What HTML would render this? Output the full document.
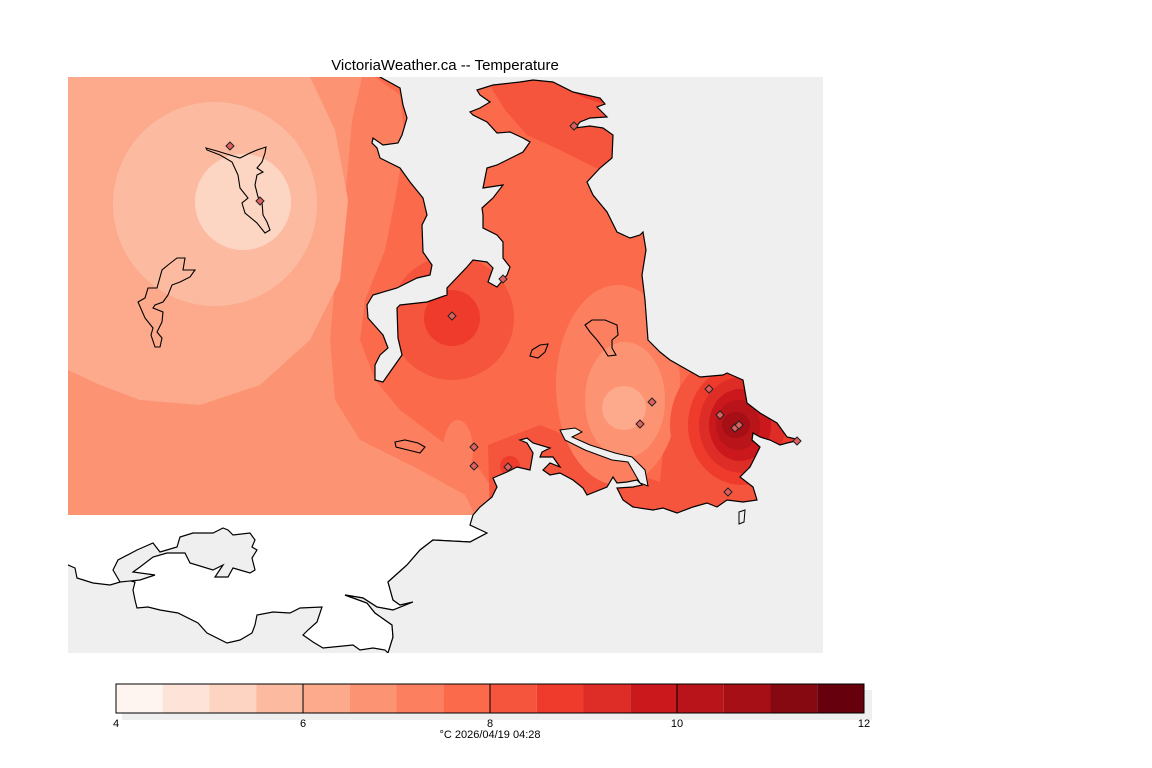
<!DOCTYPE html>
<html><head><meta charset="utf-8"><style>
html,body{margin:0;padding:0;background:#fff;}
svg{display:block;}
text{font-family:"Liberation Sans","DejaVu Sans",sans-serif;}
</style></head><body>
<svg width="1152" height="768" viewBox="0 0 1152 768" xmlns="http://www.w3.org/2000/svg">
<defs>
<clipPath id="map"><rect x="68" y="77" width="755" height="576"/></clipPath>
<clipPath id="field"><rect x="68" y="77" width="755" height="438"/></clipPath>
</defs>
<rect width="1152" height="768" fill="#fff"/>
<text x="445" y="70" font-size="15" text-anchor="middle" fill="#000">VictoriaWeather.ca -- Temperature</text>
<g clip-path="url(#map)">
<rect x="68" y="77" width="755" height="576" fill="#efefef"/>
<!-- white land south-west -->
<path d="M55,495 L482,495 L487,533 L470,542 L433,540 L420,550 L407,565 L388,582 L393,600 L400,605 L413,602 L393,610 L377,607 L363,598 L345,595 L367,603 L375,613 L392,625 L393,637 L388,653 L385,650 L373,648 L360,650 L353,645 L333,647 L323,648 L313,642 L303,635 L308,630 L317,622 L322,607 L300,608 L290,613 L273,612 L257,615 L255,625 L252,633 L240,640 L227,643 L207,633 L198,623 L178,613 L160,610 L148,607 L137,608 L135,600 L133,590 L135,582 L127,580 L110,585 L93,583 L77,578 L75,568 L68,565 L55,565 Z" fill="#fff" stroke="#000" stroke-width="1.2"/>
<path d="M113,570 L118,560 L137,550 L153,543 L160,552 L177,547 L180,537 L193,533 L213,533 L223,528 L228,530 L233,535 L250,533 L255,540 L252,547 L257,550 L252,558 L255,570 L250,573 L233,568 L228,577 L215,577 L223,565 L213,570 L190,563 L185,553 L167,553 L153,557 L140,567 L133,572 L155,575 L140,580 L120,582 Z" fill="#efefef" stroke="#000" stroke-width="1.2"/>
<!-- temperature field -->
<g clip-path="url(#field)">
<rect x="68" y="77" width="755" height="438" fill="#fb6a4a"/>
<path d="M68,77 L375,77 L400,95 L405,140 L395,200 L385,250 L365,300 L360,340 L375,380 L400,410 L440,440 L480,470 L500,500 L480,515 L68,515 Z" fill="#fc8060"/>
<path d="M68,77 L362,77 L352,120 L345,200 L335,280 L330,340 L335,400 L360,440 L420,470 L465,495 L475,515 L68,515 Z" fill="#fc9474"/>
<path d="M68,77 L310,77 L335,130 L348,200 L340,280 L310,340 L260,385 L200,405 L140,400 L100,385 L68,370 Z" fill="#fca98c"/>
<circle cx="215" cy="204" r="102" fill="#fcbba1"/>
<circle cx="243" cy="202" r="48" fill="#fdd5c3"/>
<ellipse cx="458" cy="450" rx="15" ry="30" fill="#fc8060"/>
<path d="M490,520 L488,445 L540,425 L590,445 L625,470 L660,482 L668,400 L700,378 L823,378 L823,520 Z" fill="#f5553c"/>
<ellipse cx="618" cy="385" rx="62" ry="100" fill="#fc8060"/>
<ellipse cx="625" cy="400" rx="40" ry="58" fill="#fc9474"/>
<circle cx="624" cy="408" r="22" fill="#fca98c"/>
<ellipse cx="742" cy="425" rx="72" ry="75" fill="#f5553c"/>
<ellipse cx="742" cy="425" rx="54" ry="60" fill="#ef3b2c"/>
<ellipse cx="742" cy="425" rx="43" ry="48" fill="#de2d26"/>
<ellipse cx="740" cy="425" rx="31" ry="36" fill="#cb181d"/>
<ellipse cx="738" cy="425" rx="22" ry="25" fill="#b81419"/>
<ellipse cx="736" cy="425" rx="14" ry="13" fill="#a50f15"/>
<circle cx="452" cy="318" r="62" fill="#f5553c"/>
<circle cx="452" cy="318" r="28" fill="#ef3b2c"/>
<circle cx="510" cy="466" r="10" fill="#ef3b2c"/>
<path d="M488,77 L630,77 L630,178 L600,170 L560,150 L527,135 L505,110 L490,85 Z" fill="#f5553c"/>
<path d="M550,77 L610,77 L605,104 L585,98 L560,86 Z" fill="#ef3b2c"/>
</g>
<!-- sea -->
<path d="M378,60 L380,77 L400,88 L403,105 L407,118 L402,135 L398,143 L383,145 L373,138 L372,143 L377,148 L380,158 L400,168 L410,182 L423,198 L427,215 L422,225 L423,252 L432,265 L430,275 L417,278 L397,288 L373,295 L367,305 L368,318 L383,335 L388,348 L380,355 L375,365 L375,380 L383,382 L390,372 L402,355 L398,338 L397,308 L400,305 L427,302 L447,295 L447,288 L467,267 L473,260 L487,262 L493,268 L488,282 L497,287 L507,275 L510,267 L503,258 L503,242 L497,235 L483,228 L483,215 L482,208 L493,198 L503,185 L483,188 L487,168 L497,165 L523,152 L530,142 L523,138 L510,132 L497,133 L487,122 L473,115 L470,112 L480,108 L490,102 L480,95 L477,90 L493,85 L520,82 L533,80 L553,82 L573,92 L600,98 L605,104 L597,107 L607,117 L590,118 L580,122 L575,128 L590,126 L603,128 L613,135 L612,158 L600,168 L587,182 L593,195 L607,212 L617,232 L630,238 L640,235 L643,232 L646,250 L642,275 L645,300 L648,340 L660,352 L670,360 L700,377 L723,375 L727,373 L743,380 L747,403 L760,413 L777,423 L787,437 L800,440 L787,443 L780,445 L770,440 L760,437 L753,433 L752,440 L760,447 L750,467 L740,477 L753,487 L757,500 L743,502 L727,500 L717,507 L707,503 L693,507 L677,513 L663,508 L653,510 L633,507 L623,500 L617,488 L633,487 L642,485 L637,480 L627,482 L617,483 L613,477 L607,487 L587,495 L583,488 L573,480 L560,473 L550,475 L543,470 L550,463 L560,467 L553,457 L540,457 L542,452 L550,448 L533,443 L527,438 L520,440 L527,443 L533,453 L530,470 L517,467 L507,472 L493,478 L497,487 L492,497 L480,507 L473,515 L470,525 L487,533 L470,542 L433,540 L420,550 L407,565 L388,582 L393,600 L400,605 L413,602 L393,610 L377,607 L363,598 L345,595 L367,603 L375,613 L392,625 L393,637 L388,653 L385,670 L900,670 L900,60 Z" fill="#efefef" stroke="#000" stroke-width="1.2"/>
<!-- gorge inlet -->
<path d="M560,430 L575,428 L582,432 L572,437 L590,445 L615,453 L632,457 L645,470 L648,486 L640,483 L628,462 L612,460 L585,450 L565,440 Z" fill="#efefef" stroke="#000" stroke-width="1"/>
<path d="M739,512 L745,510 L744,522 L739,524 Z" fill="#efefef" stroke="#000" stroke-width="1"/>
<!-- islands/lakes outlines -->
<g fill="none" stroke="#000" stroke-width="1.1">
<path d="M206,148 L217,151 L230,155 L240,158 L250,153 L257,150 L266,147 L265,153 L262,162 L257,168 L263,172 L257,175 L255,185 L258,197 L262,202 L263,215 L267,222 L270,230 L265,233 L257,223 L245,213 L242,203 L248,198 L240,188 L238,175 L232,162 L220,155 L207,150 Z"/>
<path d="M177,258 L185,258 L183,270 L195,270 L190,277 L180,282 L172,285 L168,295 L163,302 L155,305 L153,308 L163,312 L162,322 L157,332 L162,338 L160,347 L155,347 L151,335 L153,328 L145,318 L138,302 L145,298 L148,288 L157,288 L162,270 L168,265 Z"/>
<path d="M395,442 L405,440 L418,443 L425,447 L420,453 L408,450 L396,447 Z"/>
<path d="M532,350 L540,345 L548,344 L545,352 L538,358 L530,356 Z"/>
<path d="M585,325 L592,320 L605,320 L617,325 L618,335 L612,340 L612,348 L616,355 L608,356 L603,348 L597,340 L590,332 Z"/>
</g>
<!-- stations -->
<g fill="#e06060" stroke="#222" stroke-width="1">
<path d="M230,142 l4,4 l-4,4 l-4,-4 Z"/>
<path d="M260,197 l4,4 l-4,4 l-4,-4 Z"/>
<path d="M574,122 l4,4 l-4,4 l-4,-4 Z"/>
<path d="M503,275 l4,4 l-4,4 l-4,-4 Z"/>
<path d="M452,312 l4,4 l-4,4 l-4,-4 Z"/>
<path d="M652,398 l4,4 l-4,4 l-4,-4 Z"/>
<path d="M640,420 l4,4 l-4,4 l-4,-4 Z"/>
<path d="M709,385 l4,4 l-4,4 l-4,-4 Z"/>
<path d="M720,411 l4,4 l-4,4 l-4,-4 Z"/>
<path d="M735,424 l4,4 l-4,4 l-4,-4 Z"/>
<path d="M739,421 l4,4 l-4,4 l-4,-4 Z"/>
<path d="M474,443 l4,4 l-4,4 l-4,-4 Z"/>
<path d="M474,462 l4,4 l-4,4 l-4,-4 Z"/>
<path d="M508,463 l4,4 l-4,4 l-4,-4 Z"/>
<path d="M728,488 l4,4 l-4,4 l-4,-4 Z"/>
<path d="M797,437 l4,4 l-4,4 l-4,-4 Z"/>
</g>
</g>
<!-- colorbar -->
<rect x="122" y="690" width="750" height="30" fill="#efefef"/>
<g>
<rect x="116" y="684" width="46.75" height="29" fill="#fff5f0"/>
<rect x="162.75" y="684" width="46.75" height="29" fill="#fee4d8"/>
<rect x="209.5" y="684" width="46.75" height="29" fill="#fdd4c2"/>
<rect x="256.25" y="684" width="46.75" height="29" fill="#fcbba1"/>
<rect x="303" y="684" width="46.75" height="29" fill="#fca98c"/>
<rect x="349.75" y="684" width="46.75" height="29" fill="#fc9474"/>
<rect x="396.5" y="684" width="46.75" height="29" fill="#fc8060"/>
<rect x="443.25" y="684" width="46.75" height="29" fill="#fb6a4a"/>
<rect x="490" y="684" width="46.75" height="29" fill="#f5553c"/>
<rect x="536.75" y="684" width="46.75" height="29" fill="#ef3b2c"/>
<rect x="583.5" y="684" width="46.75" height="29" fill="#de2d26"/>
<rect x="630.25" y="684" width="46.75" height="29" fill="#cb181d"/>
<rect x="677" y="684" width="46.75" height="29" fill="#b81419"/>
<rect x="723.75" y="684" width="46.75" height="29" fill="#a50f15"/>
<rect x="770.5" y="684" width="46.75" height="29" fill="#860811"/>
<rect x="817.25" y="684" width="46.75" height="29" fill="#67000d"/>
</g>
<rect x="116" y="684" width="748" height="29" fill="none" stroke="#000" stroke-width="1"/>
<g stroke="#000" stroke-width="1">
<line x1="303" y1="684" x2="303" y2="713"/>
<line x1="490" y1="684" x2="490" y2="713"/>
<line x1="677" y1="684" x2="677" y2="713"/>
</g>
<g font-size="11" text-anchor="middle" fill="#000">
<text x="116" y="727">4</text>
<text x="303" y="727">6</text>
<text x="490" y="727">8</text>
<text x="677" y="727">10</text>
<text x="864" y="727">12</text>
<text x="490" y="738">°C  2026/04/19 04:28</text>
</g>
</svg>
</body></html>
